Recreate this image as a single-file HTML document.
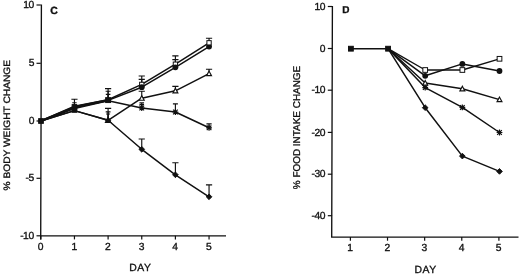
<!DOCTYPE html>
<html lang="en">
<head>
<meta charset="utf-8">
<title>Figure</title>
<style>
html,body{margin:0;padding:0;background:#fff;}
body{width:520px;height:275px;overflow:hidden;}
svg{display:block;font-family:"Liberation Sans",sans-serif;fill:#111;will-change:transform;}
text{text-rendering:geometricPrecision;stroke:#111;stroke-width:0.34px;}
</style>
</head>
<body>
<svg width="520" height="275" viewBox="0 0 520 275">
<rect x="0" y="0" width="520" height="275" fill="#fff"/>
<path d="M41.4 4.4L40.7 239.5M40.2 235.8H226" stroke="#111" stroke-width="1.35" fill="none"/>
<path d="M36.5 5H40.8" stroke="#111" stroke-width="1.2"/>
<path d="M36.5 63.3H40.8" stroke="#111" stroke-width="1.2"/>
<path d="M36.5 121H40.8" stroke="#111" stroke-width="1.2"/>
<path d="M36.5 178.3H40.8" stroke="#111" stroke-width="1.2"/>
<path d="M36.5 235.8H40.8" stroke="#111" stroke-width="1.2"/>
<path d="M40.8 235.8V239.4" stroke="#111" stroke-width="1.2"/>
<path d="M74.45 235.8V239.4" stroke="#111" stroke-width="1.2"/>
<path d="M108.1 235.8V239.4" stroke="#111" stroke-width="1.2"/>
<path d="M141.75 235.8V239.4" stroke="#111" stroke-width="1.2"/>
<path d="M175.4 235.8V239.4" stroke="#111" stroke-width="1.2"/>
<path d="M209.05 235.8V239.4" stroke="#111" stroke-width="1.2"/>
<path d="M74.45 106V99.2M71.35 99.2H77.55" stroke="#111" stroke-width="1.15" fill="none"/>
<path d="M74.45 106V102.7M72.25 102.7H76.65" stroke="#111" stroke-width="1.15" fill="none"/>
<path d="M108.1 100V88.6M105 88.6H111.2" stroke="#111" stroke-width="1.15" fill="none"/>
<path d="M108.1 100V91.2M105.6 91.2H110.6" stroke="#111" stroke-width="1.15" fill="none"/>
<path d="M108.1 100V94.4M105.8 94.4H110.4" stroke="#111" stroke-width="1.15" fill="none"/>
<path d="M108.1 120V108.4M105 108.4H111.2" stroke="#111" stroke-width="1.15" fill="none"/>
<path d="M108.1 120V111.8M105.7 111.8H110.5" stroke="#111" stroke-width="1.15" fill="none"/>
<path d="M108.1 120V114M106.1 114H110.1" stroke="#111" stroke-width="1.15" fill="none"/>
<path d="M141.75 86V76M138.65 76H144.85" stroke="#111" stroke-width="1.15" fill="none"/>
<path d="M141.75 86V79.3M138.65 79.3H144.85" stroke="#111" stroke-width="1.15" fill="none"/>
<path d="M141.75 98.2V91.2M138.65 91.2H144.85" stroke="#111" stroke-width="1.15" fill="none"/>
<path d="M141.75 108V102.9M139.45 102.9H144.05" stroke="#111" stroke-width="1.15" fill="none"/>
<path d="M141.75 108V104.6M139.45 104.6H144.05" stroke="#111" stroke-width="1.15" fill="none"/>
<path d="M141.75 149.3V139M138.65 139H144.85" stroke="#111" stroke-width="1.15" fill="none"/>
<path d="M175.4 66V55.8M172.3 55.8H178.5" stroke="#111" stroke-width="1.15" fill="none"/>
<path d="M175.4 66V59.6M172.3 59.6H178.5" stroke="#111" stroke-width="1.15" fill="none"/>
<path d="M175.4 90.8V86.3M172.3 86.3H178.5" stroke="#111" stroke-width="1.15" fill="none"/>
<path d="M175.4 112V103.8M172.9 103.8H177.9" stroke="#111" stroke-width="1.15" fill="none"/>
<path d="M175.4 174.8V162.7M172.3 162.7H178.5" stroke="#111" stroke-width="1.15" fill="none"/>
<path d="M209.05 43V38.2M205.95 38.2H212.15" stroke="#111" stroke-width="1.15" fill="none"/>
<path d="M209.05 73.6V69.2M205.95 69.2H212.15" stroke="#111" stroke-width="1.15" fill="none"/>
<path d="M209.05 127.6V123.9M206.45 123.9H211.65" stroke="#111" stroke-width="1.15" fill="none"/>
<path d="M209.05 196.8V184.9M205.95 184.9H212.15" stroke="#111" stroke-width="1.15" fill="none"/>
<polyline points="40.8,121 74.45,106.3 108.1,99.8 141.75,84.4 175.4,64.2 209.05,42.8" fill="none" stroke="#111" stroke-width="1.5" stroke-linejoin="round"/>
<polyline points="40.8,121 74.45,107.5 108.1,100.4 141.75,87.2 175.4,67.3 209.05,46.6" fill="none" stroke="#111" stroke-width="1.5" stroke-linejoin="round"/>
<polyline points="40.8,121 74.45,110.6 108.1,120.3 141.75,98.2 175.4,90.8 209.05,73.6" fill="none" stroke="#111" stroke-width="1.5" stroke-linejoin="round"/>
<polyline points="40.8,121 74.45,108.5 108.1,100.8 141.75,108 175.4,112 209.05,127.8" fill="none" stroke="#111" stroke-width="1.5" stroke-linejoin="round"/>
<polyline points="40.8,121 74.45,110.6 108.1,120.3 141.75,149.3 175.4,174.8 209.05,196.8" fill="none" stroke="#111" stroke-width="1.5" stroke-linejoin="round"/>
<polyline points="40.8,121 74.45,107.2 108.1,100.2" fill="none" stroke="#111" stroke-width="2.2" stroke-linejoin="round"/>
<polygon points="141.75,146.45 138.9,149.3 141.75,152.15 144.6,149.3" fill="#111" stroke="#111" stroke-width="0.9" stroke-linejoin="round"/>
<polygon points="175.4,171.95 172.55,174.8 175.4,177.65 178.25,174.8" fill="#111" stroke="#111" stroke-width="0.9" stroke-linejoin="round"/>
<polygon points="209.05,193.95 206.2,196.8 209.05,199.65 211.9,196.8" fill="#111" stroke="#111" stroke-width="0.9" stroke-linejoin="round"/>
<path d="M138.85 108H144.65M141.75 105.1V110.9M139.43 105.68L144.07 110.32M139.43 110.32L144.07 105.68" stroke="#111" stroke-width="1.2" fill="none"/>
<path d="M172.5 112H178.3M175.4 109.1V114.9M173.08 109.68L177.72 114.32M173.08 114.32L177.72 109.68" stroke="#111" stroke-width="1.2" fill="none"/>
<path d="M206.15 127.8H211.95M209.05 124.9V130.7M206.73 125.48L211.37 130.12M206.73 130.12L211.37 125.48" stroke="#111" stroke-width="1.2" fill="none"/>
<polygon points="141.75,95.7 139.3,100.27 144.2,100.27" fill="#fff" stroke="#111" stroke-width="1.15" stroke-linejoin="miter"/>
<polygon points="175.4,88.3 172.95,92.87 177.85,92.87" fill="#fff" stroke="#111" stroke-width="1.15" stroke-linejoin="miter"/>
<polygon points="209.05,71.1 206.6,75.67 211.5,75.67" fill="#fff" stroke="#111" stroke-width="1.15" stroke-linejoin="miter"/>
<rect x="139.6" y="82.25" width="4.3" height="4.3" fill="#fff" stroke="#111" stroke-width="1"/>
<rect x="173.25" y="62.05" width="4.3" height="4.3" fill="#fff" stroke="#111" stroke-width="1"/>
<circle cx="141.75" cy="87.2" r="2.9" fill="#111"/>
<circle cx="175.4" cy="67.3" r="2.9" fill="#111"/>
<circle cx="209.05" cy="46.6" r="2.9" fill="#111"/>
<rect x="206.9" y="40.65" width="4.3" height="4.3" fill="#fff" stroke="#111" stroke-width="1"/>
<rect x="38.65" y="118.65" width="4.7" height="4.7" fill="#111" stroke="#111" stroke-width="1"/>
<rect x="72.15" y="104.6" width="4.6" height="4.6" fill="#111" stroke="#111" stroke-width="1"/>
<rect x="72.15" y="107.7" width="4.6" height="4.6" fill="#111" stroke="#111" stroke-width="1"/>
<rect x="105.65" y="97.65" width="4.9" height="4.9" fill="#111" stroke="#111" stroke-width="1"/>
<polygon points="108.1,117.39 105.45,122.34 110.75,122.34" fill="#111" stroke="#111" stroke-width="1.15" stroke-linejoin="miter"/>
<polygon points="108.1,117.7 105.5,120.3 108.1,122.9 110.7,120.3" fill="#111" stroke="#111" stroke-width="0.9" stroke-linejoin="round"/>
<path d="M332.4 5.9L331.7 237.7M331.2 237.1H518.5" stroke="#111" stroke-width="1.35" fill="none"/>
<path d="M327.8 6.5H332.1" stroke="#111" stroke-width="1.2"/>
<path d="M327.8 48.5H332.1" stroke="#111" stroke-width="1.2"/>
<path d="M327.8 90.2H332.1" stroke="#111" stroke-width="1.2"/>
<path d="M327.8 132.4H332.1" stroke="#111" stroke-width="1.2"/>
<path d="M327.8 174.2H332.1" stroke="#111" stroke-width="1.2"/>
<path d="M327.8 215.7H332.1" stroke="#111" stroke-width="1.2"/>
<path d="M350.4 237.1V240.7" stroke="#111" stroke-width="1.2"/>
<path d="M387.52 237.1V240.7" stroke="#111" stroke-width="1.2"/>
<path d="M424.65 237.1V240.7" stroke="#111" stroke-width="1.2"/>
<path d="M461.77 237.1V240.7" stroke="#111" stroke-width="1.2"/>
<path d="M498.9 237.1V240.7" stroke="#111" stroke-width="1.2"/>
<polyline points="350.9,48.7 388.05,48.7 425.2,70 462.35,70 499.5,58.8" fill="none" stroke="#111" stroke-width="1.35" stroke-linejoin="round"/>
<polyline points="388.05,48.7 425.2,75.8 462.35,63.9 499.5,71" fill="none" stroke="#111" stroke-width="1.5" stroke-linejoin="round"/>
<polyline points="388.05,48.7 425.2,83 462.35,88.8 499.5,99.6" fill="none" stroke="#111" stroke-width="1.5" stroke-linejoin="round"/>
<polyline points="388.05,48.7 425.2,87.6 462.35,107.4 499.5,132.5" fill="none" stroke="#111" stroke-width="1.5" stroke-linejoin="round"/>
<polyline points="388.05,48.7 425.2,107.7 462.35,156.1 499.5,171.4" fill="none" stroke="#111" stroke-width="1.5" stroke-linejoin="round"/>
<polygon points="425.2,104.85 422.35,107.7 425.2,110.55 428.05,107.7" fill="#111" stroke="#111" stroke-width="0.9" stroke-linejoin="round"/>
<polygon points="462.35,153.25 459.5,156.1 462.35,158.95 465.2,156.1" fill="#111" stroke="#111" stroke-width="0.9" stroke-linejoin="round"/>
<polygon points="499.5,168.55 496.65,171.4 499.5,174.25 502.35,171.4" fill="#111" stroke="#111" stroke-width="0.9" stroke-linejoin="round"/>
<path d="M422.3 87.6H428.1M425.2 84.7V90.5M422.88 85.28L427.52 89.92M422.88 89.92L427.52 85.28" stroke="#111" stroke-width="1.2" fill="none"/>
<path d="M459.45 107.4H465.25M462.35 104.5V110.3M460.03 105.08L464.67 109.72M460.03 109.72L464.67 105.08" stroke="#111" stroke-width="1.2" fill="none"/>
<path d="M496.6 132.5H502.4M499.5 129.6V135.4M497.18 130.18L501.82 134.82M497.18 134.82L501.82 130.18" stroke="#111" stroke-width="1.2" fill="none"/>
<polygon points="425.2,80.5 422.75,85.07 427.65,85.07" fill="#fff" stroke="#111" stroke-width="1.15" stroke-linejoin="miter"/>
<polygon points="462.35,86.3 459.9,90.87 464.8,90.87" fill="#fff" stroke="#111" stroke-width="1.15" stroke-linejoin="miter"/>
<polygon points="499.5,97.1 497.05,101.67 501.95,101.67" fill="#fff" stroke="#111" stroke-width="1.15" stroke-linejoin="miter"/>
<circle cx="425.2" cy="75.8" r="2.9" fill="#111"/>
<circle cx="462.35" cy="63.9" r="2.9" fill="#111"/>
<circle cx="499.5" cy="71" r="2.9" fill="#111"/>
<rect x="422.85" y="67.65" width="4.7" height="4.7" fill="#fff" stroke="#111" stroke-width="1"/>
<rect x="460" y="67.65" width="4.7" height="4.7" fill="#fff" stroke="#111" stroke-width="1"/>
<rect x="497.15" y="56.45" width="4.7" height="4.7" fill="#fff" stroke="#111" stroke-width="1"/>
<rect x="348.5" y="46.3" width="4.8" height="4.8" fill="#111" stroke="#111" stroke-width="1"/>
<rect x="385.65" y="46.3" width="4.8" height="4.8" fill="#111" stroke="#111" stroke-width="1"/>
<text x="33.7" y="7.9" font-size="10.3" text-anchor="end" font-weight="normal" letter-spacing="-0.45">10</text>
<text x="34.4" y="66.2" font-size="10.3" text-anchor="end" font-weight="normal" >5</text>
<text x="34.4" y="123.9" font-size="10.3" text-anchor="end" font-weight="normal" >0</text>
<text x="33.7" y="181.2" font-size="10.3" text-anchor="end" font-weight="normal" letter-spacing="-0.45">-5</text>
<text x="33.7" y="238.7" font-size="10.3" text-anchor="end" font-weight="normal" letter-spacing="-0.45">-10</text>
<text x="40.6" y="250.1" font-size="10.3" text-anchor="middle" font-weight="normal" >0</text>
<text x="74.25" y="250.1" font-size="10.3" text-anchor="middle" font-weight="normal" >1</text>
<text x="107.9" y="250.1" font-size="10.3" text-anchor="middle" font-weight="normal" >2</text>
<text x="141.55" y="250.1" font-size="10.3" text-anchor="middle" font-weight="normal" >3</text>
<text x="175.2" y="250.1" font-size="10.3" text-anchor="middle" font-weight="normal" >4</text>
<text x="208.85" y="250.1" font-size="10.3" text-anchor="middle" font-weight="normal" >5</text>
<text x="140.4" y="270.8" font-size="10.4" text-anchor="middle" font-weight="normal" letter-spacing="0.55">DAY</text>
<text x="50.3" y="14.3" font-size="10.4" text-anchor="start" font-weight="bold" >C</text>
<text transform="translate(10.3 125.2) rotate(-90)" font-size="9.3" text-anchor="middle" textLength="130.6" lengthAdjust="spacingAndGlyphs">% BODY WEIGHT CHANGE</text>
<text x="325" y="9.6" font-size="10.3" text-anchor="end" font-weight="normal" letter-spacing="-0.45">10</text>
<text x="325.6" y="51.6" font-size="10.3" text-anchor="end" font-weight="normal" >0</text>
<text x="325" y="93.3" font-size="10.3" text-anchor="end" font-weight="normal" letter-spacing="-0.45">-10</text>
<text x="325" y="135.5" font-size="10.3" text-anchor="end" font-weight="normal" letter-spacing="-0.45">-20</text>
<text x="325" y="177.3" font-size="10.3" text-anchor="end" font-weight="normal" letter-spacing="-0.45">-30</text>
<text x="325" y="218.8" font-size="10.3" text-anchor="end" font-weight="normal" letter-spacing="-0.45">-40</text>
<text x="350.2" y="250.9" font-size="10.3" text-anchor="middle" font-weight="normal" >1</text>
<text x="387.32" y="250.9" font-size="10.3" text-anchor="middle" font-weight="normal" >2</text>
<text x="424.45" y="250.9" font-size="10.3" text-anchor="middle" font-weight="normal" >3</text>
<text x="461.57" y="250.9" font-size="10.3" text-anchor="middle" font-weight="normal" >4</text>
<text x="498.7" y="250.9" font-size="10.3" text-anchor="middle" font-weight="normal" >5</text>
<text x="425.5" y="272.9" font-size="10.4" text-anchor="middle" font-weight="normal" letter-spacing="0.55">DAY</text>
<text x="342.2" y="13.4" font-size="10" text-anchor="start" font-weight="bold" >D</text>
<text transform="translate(300.3 127.5) rotate(-90)" font-size="9.8" text-anchor="middle" textLength="123.4" lengthAdjust="spacingAndGlyphs">% FOOD INTAKE CHANGE</text>
</svg>
</body>
</html>
